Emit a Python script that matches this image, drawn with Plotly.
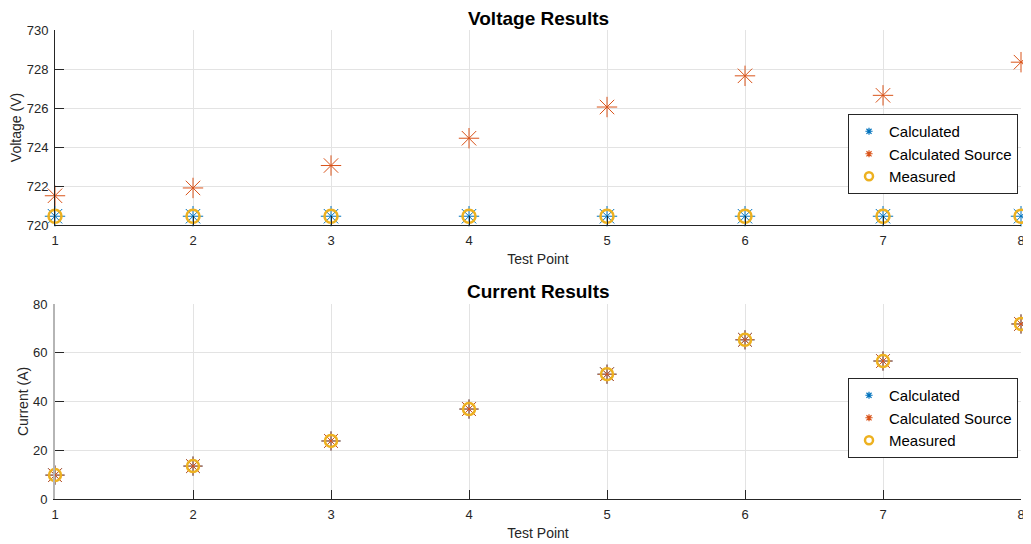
import plotly.graph_objects as go

test_points = [1, 2, 3, 4, 5, 6, 7, 8]

v_calculated = [720.45, 720.45, 720.45, 720.45, 720.45, 720.45, 720.45, 720.45]
v_calc_source = [721.5, 721.9, 723.05, 724.45, 726.05, 727.65, 726.65, 728.35]
v_measured = [720.45, 720.45, 720.45, 720.45, 720.45, 720.45, 720.45, 720.45]

i_calculated = [9.8, 13.5, 23.8, 36.9, 51.2, 65.3, 56.6, 71.8]
i_calc_source = [9.8, 13.5, 23.8, 36.9, 51.2, 65.3, 56.6, 71.8]
i_measured = [9.8, 13.5, 23.8, 36.9, 51.2, 65.3, 56.6, 71.8]

series_names = ["Calculated", "Calculated Source", "Measured"]
voltage_ticks = [720, 722, 724, 726, 728, 730]
current_ticks = [0, 20, 40, 60, 80]

BLUE = "#0072BD"
ORANGE = "#D95319"
YELLOW = "#EDB120"
FONT = "Liberation Sans, Arial, sans-serif"
TXT = "#262626"

colors = [BLUE, ORANGE, YELLOW]
symbols = ["asterisk-open", "asterisk-open", "circle-open"]

fig = go.Figure()

def add_series(x, y, name, color, symbol, size, lw, xa, ya):
    fig.add_trace(go.Scatter(
        x=x, y=y, mode="markers", name=name,
        xaxis=xa, yaxis=ya, showlegend=False,
        cliponaxis=False,
        marker=dict(symbol=symbol, size=size, color=color,
                    line=dict(color=color, width=lw)),
    ))

def add_legend_entries(xa, ya, legend):
    for name, color, symbol in zip(series_names, colors, symbols):
        is_circle = symbol.startswith("circle")
        fig.add_trace(go.Scatter(
            x=[None], y=[None], mode="markers", name=name,
            xaxis=xa, yaxis=ya, legend=legend, showlegend=True,
            marker=dict(symbol=symbol, size=8 if is_circle else 6, color=color,
                        line=dict(color=color, width=2.5 if is_circle else 1.2)),
        ))

add_series(test_points, v_calculated, series_names[0], BLUE, "asterisk-open", 17, 1, "x", "y")
add_series(test_points, v_calc_source, series_names[1], ORANGE, "asterisk-open", 17, 1, "x", "y")
add_series(test_points, v_measured, series_names[2], YELLOW, "circle-open", 13, 2.5, "x", "y")
add_legend_entries("x", "y", "legend")

add_series(test_points, i_calculated, series_names[0], BLUE, "asterisk-open", 16, 1, "x2", "y2")
add_series(test_points, i_calc_source, series_names[1], ORANGE, "asterisk-open", 16, 1, "x2", "y2")
add_series(test_points, i_measured, series_names[2], YELLOW, "circle-open", 12, 2.5, "x2", "y2")
add_legend_entries("x2", "y2", "legend2")

axis_common = dict(
    showgrid=True, gridcolor="#e3e3e3", gridwidth=1,
    ticks="inside", ticklen=9, tickcolor=TXT, tickwidth=1,
    tickfont=dict(family=FONT, size=13, color=TXT),
    showline=True, linecolor=TXT, linewidth=1,
    zeroline=False, mirror=False, automargin=False,
)

xtitle = lambda t: dict(text=t, standoff=7, font=dict(family=FONT, size=14, color=TXT))
ytitle = lambda t: dict(text=t, standoff=1, font=dict(family=FONT, size=14, color=TXT))

legend_style = dict(
    bgcolor="white", bordercolor=TXT, borderwidth=1,
    font=dict(family=FONT, size=15, color="#000000"),
    itemsizing="trace", itemwidth=30, tracegroupgap=0,
)

# The page body has an 8px margin, so the figure is sized/offset to compensate.
fig.update_layout(
    width=1023, height=536,
    margin=dict(l=47, r=10, t=22, b=45, autoexpand=False),
    paper_bgcolor="white", plot_bgcolor="white",
    font=dict(family=FONT, size=13, color=TXT),
    xaxis=dict(domain=[0, 1], anchor="y", range=[1, 8], tickvals=test_points,
               ticklabelstandoff=3, title=xtitle("Test Point"), **axis_common),
    yaxis=dict(domain=[0.5842, 1.0], anchor="x", range=[720, 730], tickvals=voltage_ticks,
               ticklabelstandoff=3, title=ytitle("Voltage (V)"), **axis_common),
    xaxis2=dict(domain=[0, 1], anchor="y2", range=[1, 8], tickvals=test_points,
                ticklabelstandoff=3, title=xtitle("Test Point"), **axis_common),
    yaxis2=dict(domain=[0.0, 0.4158], anchor="x2", range=[0, 80], tickvals=current_ticks,
                ticklabelstandoff=3, title=ytitle("Current (A)"),
                **{**axis_common, "linecolor": "#b5b5b5", "linewidth": 2}),
    legend=dict(x=0.9969, xanchor="right", y=0.7356, yanchor="middle", **legend_style),
    legend2=dict(x=0.9969, xanchor="right", y=0.1727, yanchor="middle", **legend_style),
    annotations=[
        dict(text="<b>Voltage Results</b>", x=0.5, y=1.0, xref="paper", yref="paper",
             xanchor="center", yanchor="bottom", yshift=-1, showarrow=False,
             font=dict(family=FONT, size=19, color="#000000")),
        dict(text="<b>Current Results</b>", x=0.5, y=0.4158, xref="paper", yref="paper",
             xanchor="center", yanchor="bottom", yshift=0, showarrow=False,
             font=dict(family=FONT, size=19, color="#000000")),
    ],
)

fig.write_html("out.html")
